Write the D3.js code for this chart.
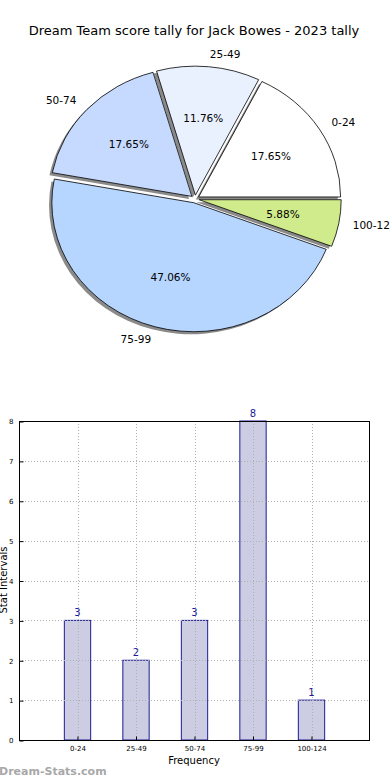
<!DOCTYPE html>
<html>
<head>
<meta charset="utf-8">
<script src="https://cdn.jsdelivr.net/npm/d3@7"></script>
<style>
  body { margin: 0; background: #fff; }
  svg { display: block; font-family: "DejaVu Sans", sans-serif; }
</style>
</head>
<body>
<svg width="390" height="780"></svg>
<script>
// score bands and how many games fell in each
var categories = ["0-24", "25-49", "50-74", "75-99", "100-124"];
var counts = [3, 2, 3, 8, 1];
var sliceColors = ["#ffffff", "#e9f1ff", "#c6d9fe", "#b6d6ff", "#d0eb8b"];
var yTicks = [0, 1, 2, 3, 4, 5, 6, 7, 8];
var titleText = "Dream Team score tally for Jack Bowes - 2023 tally";

var svg = d3.select("svg");
var total = d3.sum(counts);

svg.append("text")
  .attr("x", 194).attr("y", 35)
  .attr("text-anchor", "middle")
  .attr("font-size", "13px")
  .text(titleText);

/////
// pie (matplotlib style: starts at 3 o'clock, goes counter clockwise)
var cx = 195, cy = 199, rx = 142, ry = 129;
var explode = 0.03;

var pie = d3.pie().sort(null)
  .startAngle(Math.PI / 2)
  .endAngle(Math.PI / 2 - 2 * Math.PI);
var arcs = pie(counts);
var arc = d3.arc().innerRadius(0).outerRadius(rx);

var pieG = svg.append("g")
  .attr("transform", "translate(" + cx + "," + cy + ") scale(1," + (ry / rx) + ")");

function offset(d, k) {
  var a = (d.startAngle + d.endAngle) / 2;
  return [Math.sin(a) * rx * k, -Math.cos(a) * rx * k];
}

// shadows first
pieG.selectAll("path.shadow")
  .data(arcs)
  .enter().append("path")
  .attr("class", "shadow")
  .attr("d", arc)
  .attr("transform", function (d) {
    var o = offset(d, explode);
    return "translate(" + (o[0] - 2.8) + "," + (o[1] + 2.8) + ")";
  })
  .style("fill", "#8a8a8a");

pieG.selectAll("path.slice")
  .data(arcs)
  .enter().append("path")
  .attr("class", "slice")
  .attr("d", arc)
  .attr("transform", function (d) {
    var o = offset(d, explode);
    return "translate(" + o[0] + "," + o[1] + ")";
  })
  .attr("vector-effect", "non-scaling-stroke")
  .style("fill", function (d, i) { return sliceColors[i]; })
  .style("stroke", "#000")
  .style("stroke-width", 0.8);

// labels are placed in screen coords, so do the ellipse by hand
arcs.forEach(function (d, i) {
  var a = (d.startAngle + d.endAngle) / 2;
  var sx = Math.sin(a), sy = -Math.cos(a);
  var ox = cx + sx * rx * explode, oy = cy + sy * ry * explode;

  svg.append("text")
    .attr("x", ox + sx * rx * 1.1)
    .attr("y", oy + sy * ry * 1.1)
    .attr("dy", "0.35em")
    .attr("text-anchor", sx > 0 ? "start" : "end")
    .attr("font-size", "10.5px")
    .text(categories[i]);

  svg.append("text")
    .attr("x", ox + sx * rx * 0.6)
    .attr("y", oy + sy * ry * 0.6)
    .attr("dy", "0.35em")
    .attr("text-anchor", "middle")
    .attr("font-size", "10.5px")
    .text((counts[i] / total * 100).toFixed(2) + "%");
});

/////
// bar chart
var plotLeft = 19, plotRight = 370, plotTop = 421, plotBottom = 740;

var x = d3.scaleLinear().domain([0, categories.length + 1]).range([plotLeft, plotRight]);
var y = d3.scaleLinear().domain([0, 8]).range([plotBottom, plotTop]);
var barW = x(0.45) - x(0);

var bars = svg.append("g");
bars.selectAll("rect")
  .data(counts)
  .enter().append("rect")
  .attr("x", function (d, i) { return x(i + 1) - barW / 2; })
  .attr("y", function (d) { return y(d); })
  .attr("width", barW)
  .attr("height", function (d) { return y(0) - y(d); })
  .style("fill", "#ccccE2")
  .style("stroke", "#1c1c96")
  .style("stroke-width", 1);

// grid goes over the bars
var grid = svg.append("g")
  .style("stroke", "#b0b0b0")
  .style("stroke-width", 1)
  .style("stroke-dasharray", "1,2");
grid.selectAll("line.h")
  .data(yTicks.slice(1, -1))
  .enter().append("line")
  .attr("x1", plotLeft).attr("x2", plotRight)
  .attr("y1", function (d) { return Math.round(y(d)) + 0.5; })
  .attr("y2", function (d) { return Math.round(y(d)) + 0.5; });
grid.selectAll("line.v")
  .data(categories)
  .enter().append("line")
  .attr("x1", function (d, i) { return Math.round(x(i + 1)) + 0.5; })
  .attr("x2", function (d, i) { return Math.round(x(i + 1)) + 0.5; })
  .attr("y1", plotTop).attr("y2", plotBottom);

svg.selectAll("text.val")
  .data(counts)
  .enter().append("text")
  .attr("class", "val")
  .attr("x", function (d, i) { return x(i + 1); })
  .attr("y", function (d) { return y(d) - 4; })
  .attr("text-anchor", "middle")
  .attr("font-size", "10px")
  .style("fill", "#1c1c96")
  .text(function (d) { return d; });

// frame
svg.append("rect")
  .attr("x", plotLeft + 0.5).attr("y", plotTop + 0.5)
  .attr("width", plotRight - plotLeft - 1).attr("height", plotBottom - plotTop)
  .style("fill", "none")
  .style("stroke", "#000")
  .style("stroke-width", 1);

var yAxis = d3.axisLeft(y).tickValues(yTicks).tickSize(-4).tickPadding(6);
svg.append("g")
  .attr("transform", "translate(" + (plotLeft + 0.5) + ",0.5)")
  .call(yAxis)
  .call(function (g) { g.select(".domain").remove(); })
  .call(function (g) {
    g.selectAll("text").attr("font-size", "7px").attr("font-family", "DejaVu Sans");
  });

var xAxis = d3.axisBottom(x)
  .tickValues(d3.range(1, categories.length + 1))
  .tickFormat(function (d) { return categories[d - 1]; })
  .tickSize(-4).tickPadding(6);
svg.append("g")
  .attr("transform", "translate(0," + (plotBottom + 0.5) + ")")
  .call(xAxis)
  .call(function (g) { g.select(".domain").remove(); })
  .call(function (g) {
    g.selectAll("text").attr("font-size", "7px").attr("font-family", "DejaVu Sans");
  });

svg.append("text")
  .attr("x", 194).attr("y", 764)
  .attr("text-anchor", "middle")
  .attr("font-size", "10px")
  .text("Frequency");

svg.append("text")
  .attr("transform", "translate(7,580) rotate(-90)")
  .attr("text-anchor", "middle")
  .attr("font-size", "10px")
  .text("Stat Intervals");

svg.append("text")
  .attr("x", -1).attr("y", 775)
  .attr("font-size", "11px")
  .attr("font-weight", "bold")
  .style("fill", "#a8a8a8")
  .text("Dream-Stats.com");
</script>
</body>
</html>
